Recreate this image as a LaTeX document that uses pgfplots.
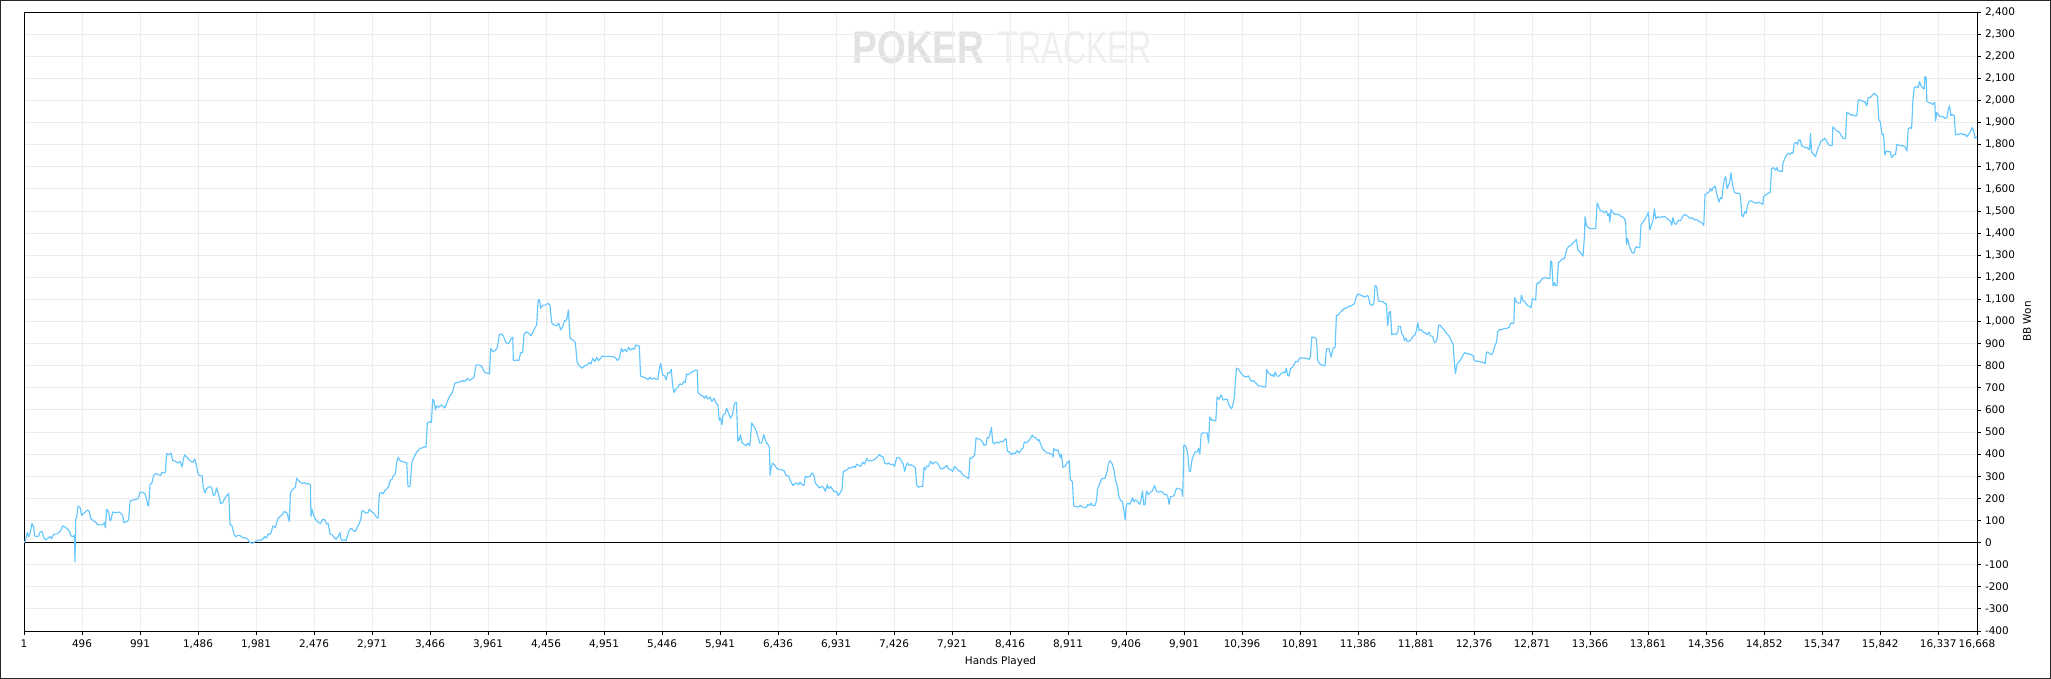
\documentclass[border=0pt]{standalone}
\usepackage{pgfplots}
\usepackage{pgfplotstable}
\pgfplotsset{compat=1.18}
\usepackage{fontspec}
\setmainfont{DejaVu Sans}
\newfontfamily\wmfont{Liberation Sans}
\definecolor{lineblue}{RGB}{100,198,255}
\definecolor{gridgray}{RGB}{236,236,236}
\definecolor{wmdark}{RGB}{226,226,226}
\definecolor{wmlight}{RGB}{239,239,239}

\pgfplotstableread{
x y
1 0
12 8
29 45
41 27
52 42
69 86
83 72
92 30
109 27
126 30
138 48
155 50
166 27
183 12
203 18
223 27
237 18
254 38
280 38
297 45
311 52
331 75
351 70
368 63
388 52
402 30
422 27
431 33
436 -87
442 105
450 112
462 165
479 160
493 123
510 132
524 138
539 147
559 142
570 108
587 102
610 93
630 82
644 80
672 80
687 90
695 67
707 150
724 138
735 98
746 108
758 138
786 135
815 138
843 123
854 90
871 93
894 102
906 188
928 192
957 195
977 201
991 228
1008 228
1031 222
1042 206
1059 168
1065 165
1076 262
1093 270
1105 300
1122 312
1144 308
1167 303
1179 318
1196 315
1207 318
1219 402
1236 397
1256 405
1270 372
1293 367
1313 360
1333 367
1350 342
1361 378
1373 397
1390 387
1407 375
1426 367
1441 363
1458 378
1469 357
1486 312
1497 303
1520 303
1532 247
1546 225
1560 243
1577 252
1597 252
1605 243
1617 213
1631 217
1645 247
1662 217
1679 177
1696 180
1713 198
1731 213
1748 222
1759 82
1776 75
1796 33
1810 27
1827 33
1850 30
1867 22
1890 22
1910 15
1930 0
1953 -3
1970 3
1987 8
2004 12
2021 10
2038 15
2055 27
2070 20
2084 39
2106 39
2126 75
2146 69
2169 110
2186 118
2203 125
2220 140
2243 136
2254 118
2265 95
2274 223
2294 241
2317 250
2328 291
2345 280
2362 271
2379 268
2396 271
2413 265
2430 268
2445 261
2450 118
2459 151
2476 118
2496 100
2516 90
2533 87
2550 106
2567 103
2584 84
2596 87
2613 39
2630 35
2647 24
2664 15
2681 27
2698 45
2704 20
2715 9
2732 12
2749 9
2761 30
2778 57
2795 65
2812 54
2829 50
2846 69
2863 87
2874 103
2886 145
2903 140
2920 133
2937 136
2948 151
2966 140
2988 133
3005 118
3022 110
3034 223
3051 226
3068 220
3079 235
3096 241
3113 253
3125 280
3142 287
3153 302
3170 311
3182 362
3193 386
3210 371
3233 366
3248 362
3267 362
3278 253
3295 253
3312 366
3335 392
3349 407
3364 416
3381 427
3398 427
3420 434
3432 431
3443 540
3460 547
3478 543
3489 648
3500 642
3512 600
3523 618
3540 612
3563 623
3580 615
3592 608
3608 630
3625 653
3643 668
3660 683
3677 721
3700 724
3722 727
3745 733
3762 728
3785 743
3802 733
3819 739
3842 748
3859 804
3876 804
3904 799
3921 781
3933 769
3956 766
3973 763
3984 879
4001 864
4024 869
4041 884
4058 940
4075 944
4092 935
4109 909
4126 899
4143 905
4160 925
4172 929
4177 826
4189 823
4206 826
4223 823
4240 859
4257 859
4268 939
4285 954
4308 947
4328 935
4342 950
4359 969
4376 984
4388 1094
4399 1100
4410 1059
4428 1074
4450 1074
4473 1082
4490 1074
4504 995
4524 984
4547 980
4564 992
4581 962
4598 977
4615 1004
4632 1007
4647 1052
4661 924
4684 917
4706 905
4721 819
4740 799
4763 789
4786 799
4809 804
4826 814
4840 808
4854 834
4871 819
4888 837
4905 823
4922 834
4939 844
4962 841
4985 844
5008 841
5031 841
5053 834
5065 823
5082 834
5099 879
5110 864
5127 874
5144 864
5161 883
5178 871
5195 879
5207 874
5224 894
5252 889
5263 754
5286 748
5309 744
5326 736
5343 748
5360 739
5377 744
5394 739
5411 739
5422 784
5434 811
5451 759
5468 754
5480 736
5496 769
5508 766
5525 784
5536 713
5548 679
5565 694
5582 703
5599 718
5616 713
5633 728
5644 724
5656 763
5673 759
5690 769
5713 774
5735 781
5747 778
5753 679
5770 668
5792 664
5809 653
5821 664
5838 649
5855 658
5872 638
5889 653
5906 631
5923 623
5934 553
5946 563
5957 533
5968 578
5985 583
5997 608
6013 586
6030 563
6047 578
6064 631
6081 634
6093 458
6104 465
6115 488
6127 453
6144 445
6161 438
6178 450
6195 438
6212 541
6229 526
6246 510
6263 483
6280 450
6297 450
6314 488
6331 458
6348 445
6362 431
6368 304
6379 345
6391 360
6408 349
6425 337
6442 330
6464 330
6487 325
6504 304
6527 300
6544 277
6561 259
6578 265
6595 269
6612 262
6624 274
6641 262
6658 259
6669 300
6686 295
6709 300
6726 315
6743 304
6754 269
6771 259
6788 247
6806 254
6823 250
6840 232
6857 262
6868 244
6885 254
6902 239
6919 229
6936 232
6948 213
6965 224
6982 239
6993 322
7010 325
7027 330
7044 340
7061 337
7078 345
7095 340
7107 355
7124 349
7141 345
7158 364
7175 355
7192 380
7209 370
7232 370
7255 375
7277 383
7300 398
7317 390
7334 386
7346 360
7363 355
7380 360
7397 352
7414 355
7431 345
7448 383
7465 386
7482 375
7493 364
7505 355
7516 322
7528 345
7539 360
7557 349
7574 352
7591 345
7608 340
7619 259
7636 250
7653 254
7670 254
7682 340
7693 330
7704 345
7721 345
7738 367
7755 355
7772 364
7789 364
7806 352
7823 334
7840 334
7858 340
7875 349
7892 334
7909 330
7926 322
7943 345
7960 334
7977 325
7994 322
8012 307
8029 300
8046 295
8063 289
8074 383
8086 380
8103 390
8114 394
8126 473
8143 470
8160 466
8177 458
8194 440
8211 443
8222 476
8234 473
8245 491
8257 521
8268 455
8285 446
8302 455
8319 450
8336 458
8353 455
8370 466
8382 470
8393 413
8410 410
8427 398
8441 405
8458 401
8476 416
8493 405
8510 420
8527 428
8538 455
8555 451
8572 458
8589 471
8606 486
8618 477
8635 474
8652 462
8663 466
8680 440
8698 420
8715 413
8732 405
8749 405
8766 401
8777 398
8783 386
8789 425
8806 416
8823 420
8834 401
8846 383
8854 401
8868 340
8885 345
8902 360
8920 370
8931 284
8948 276
8959 167
8976 162
8999 162
9016 167
9033 162
9050 158
9067 158
9079 173
9096 167
9107 178
9124 167
9141 167
9153 188
9164 246
9176 258
9193 284
9210 291
9227 291
9244 322
9255 355
9267 370
9284 360
9301 334
9312 294
9324 269
9335 246
9347 203
9364 188
9375 185
9387 147
9398 102
9409 173
9426 178
9438 173
9449 185
9461 203
9472 185
9489 193
9506 185
9523 173
9534 193
9546 234
9557 170
9568 173
9580 234
9597 216
9614 228
9631 234
9648 258
9665 234
9682 228
9700 231
9717 228
9733 216
9751 219
9762 208
9773 173
9785 208
9802 208
9819 216
9836 246
9853 243
9870 243
9882 234
9890 208
9899 440
9910 440
9922 428
9933 398
9945 322
9956 322
9967 370
9979 390
9996 410
10013 410
10024 425
10036 401
10047 492
10064 496
10087 496
10098 496
10110 451
10121 568
10138 553
10155 553
10172 550
10183 659
10200 648
10217 668
10235 644
10252 648
10269 648
10280 628
10297 610
10308 607
10320 628
10331 659
10337 713
10348 789
10365 785
10382 770
10400 759
10416 750
10434 750
10451 754
10462 739
10479 729
10496 732
10518 719
10535 708
10558 708
10581 704
10598 704
10606 783
10620 768
10632 764
10643 756
10657 759
10666 749
10677 771
10694 753
10711 753
10728 764
10745 771
10762 768
10774 789
10786 756
10797 753
10808 786
10826 794
10843 809
10854 820
10871 817
10888 835
10905 835
10928 835
10951 832
10968 829
10979 839
10991 929
11008 929
11030 922
11042 824
11059 809
11082 802
11104 799
11116 877
11138 877
11156 839
11173 880
11190 884
11201 1027
11218 1030
11235 1042
11252 1050
11269 1060
11286 1060
11304 1069
11321 1069
11338 1075
11355 1080
11366 1105
11383 1125
11406 1120
11429 1114
11446 1110
11463 1117
11474 1114
11486 1080
11503 1072
11520 1080
11531 1162
11543 1159
11560 1095
11577 1090
11599 1090
11617 1080
11628 1080
11639 982
11651 1042
11662 1045
11674 940
11691 944
11708 940
11725 952
11731 979
11748 979
11759 944
11771 937
11782 914
11793 925
11805 910
11822 910
11839 919
11856 934
11873 940
11884 959
11896 994
11907 959
11924 964
11941 952
11958 949
11975 940
11992 952
12004 934
12021 934
12038 904
12049 907
12061 922
12072 982
12083 985
12100 974
12117 964
12129 955
12146 944
12163 934
12180 914
12197 899
12208 813
12217 764
12231 809
12248 817
12265 829
12282 850
12299 859
12316 854
12333 854
12350 850
12367 847
12379 824
12396 820
12413 820
12436 817
12459 814
12470 809
12482 862
12499 859
12516 850
12533 854
12550 884
12567 907
12578 955
12595 964
12612 962
12629 968
12652 968
12675 973
12686 992
12703 992
12715 992
12723 1108
12737 1089
12754 1083
12771 1083
12780 1119
12794 1093
12811 1089
12828 1074
12840 1070
12851 1067
12862 1063
12874 1104
12891 1098
12902 1098
12908 1164
12919 1176
12931 1173
12942 1183
12959 1194
12976 1198
12993 1198
13010 1194
13022 1194
13030 1274
13039 1269
13050 1161
13062 1176
13073 1161
13084 1164
13096 1266
13113 1274
13130 1284
13147 1284
13158 1308
13170 1330
13187 1342
13204 1345
13221 1357
13238 1364
13249 1372
13261 1324
13272 1319
13289 1308
13306 1296
13318 1387
13323 1474
13335 1435
13352 1424
13369 1420
13392 1420
13414 1420
13426 1537
13437 1522
13454 1500
13471 1500
13488 1492
13505 1500
13517 1480
13528 1489
13534 1450
13545 1507
13557 1495
13574 1485
13591 1485
13608 1485
13625 1477
13642 1474
13659 1465
13670 1447
13676 1349
13687 1375
13698 1349
13710 1327
13721 1314
13739 1308
13750 1330
13761 1339
13778 1334
13790 1334
13801 1439
13818 1450
13835 1462
13852 1480
13864 1495
13875 1414
13887 1432
13904 1459
13915 1510
13926 1465
13943 1474
13961 1470
13983 1474
14006 1474
14023 1465
14040 1459
14052 1455
14063 1435
14074 1470
14086 1444
14097 1439
14109 1447
14120 1459
14137 1455
14154 1474
14171 1485
14188 1480
14205 1474
14222 1465
14239 1470
14256 1459
14273 1462
14290 1455
14307 1450
14324 1444
14336 1435
14347 1575
14364 1580
14381 1586
14393 1601
14404 1590
14416 1605
14433 1613
14444 1583
14455 1560
14467 1540
14478 1560
14490 1555
14501 1605
14512 1643
14524 1655
14535 1601
14547 1616
14558 1631
14569 1673
14581 1620
14598 1583
14615 1580
14638 1580
14649 1570
14661 1480
14672 1474
14687 1497
14698 1489
14710 1527
14727 1545
14744 1545
14761 1539
14778 1535
14801 1539
14824 1535
14841 1530
14846 1565
14863 1572
14886 1580
14903 1584
14915 1690
14932 1696
14949 1685
14960 1696
14971 1681
14989 1681
15006 1678
15011 1715
15028 1738
15045 1756
15062 1761
15074 1756
15085 1765
15097 1761
15108 1806
15125 1810
15137 1801
15148 1821
15159 1821
15171 1795
15188 1791
15205 1786
15222 1786
15239 1776
15247 1851
15256 1768
15267 1761
15279 1753
15290 1746
15301 1768
15313 1786
15324 1798
15336 1817
15353 1821
15370 1829
15387 1813
15404 1798
15421 1795
15432 1798
15438 1881
15455 1871
15472 1862
15489 1859
15506 1844
15523 1829
15546 1826
15557 1946
15574 1942
15591 1934
15608 1934
15626 1931
15643 1931
15654 2002
15671 2002
15688 1997
15711 1994
15728 1976
15739 2013
15756 2013
15773 2022
15790 2032
15808 2025
15819 2017
15830 1911
15842 1904
15859 1844
15870 1847
15882 1753
15893 1771
15910 1768
15927 1768
15939 1741
15956 1753
15973 1756
15984 1801
16001 1798
16018 1795
16035 1795
16053 1791
16070 1771
16081 1871
16098 1877
16110 1874
16121 2002
16132 2058
16149 2062
16166 2058
16178 2085
16189 2067
16206 2055
16217 2052
16223 2108
16234 2103
16240 1994
16257 1991
16274 1987
16291 1982
16308 1991
16314 1907
16325 1946
16343 1931
16360 1927
16377 1927
16394 1919
16411 1922
16422 1957
16434 1976
16445 1931
16456 1937
16473 1931
16485 1844
16502 1847
16519 1847
16536 1851
16553 1844
16570 1847
16581 1836
16598 1847
16615 1862
16627 1877
16638 1866
16649 1829
16668 1835
}\bbwon

\begin{document}
\begin{tikzpicture}
\path[use as bounding box] (0,0) rectangle (2051bp,679bp);
% watermark
\node[inner sep=0pt, text=wmdark] at (918.5bp,631.5bp)
  {\scalebox{0.81}[1]{\wmfont\bfseries\fontsize{46}{46}\selectfont POKER}};
\node[inner sep=0pt, text=wmlight] at (1075.5bp,631.5bp)
  {\scalebox{0.70}[1]{\wmfont\fontsize{46}{46}\selectfont TRACKER}};
\begin{axis}[
  at={(24bp,48bp)}, anchor=south west,
  width=1953bp, height=619bp, scale only axis,
  xmin=1, xmax=16668, ymin=-400, ymax=2400,
  xtick={1,496,991,1486,1981,2476,2971,3466,3961,4456,4951,5446,5941,6436,6931,7426,7921,8416,8911,9406,9901,10396,10891,11386,11881,12376,12871,13366,13861,14356,14852,15347,15842,16337,16668},
  ytick={-400,-300,...,2400},
  scaled x ticks=false, scaled y ticks=false,
  xtick pos=bottom, ytick pos=right, yticklabel pos=right,
  tick align=outside, major tick length=3.5bp,
  tick style={black, line width=0.8bp},
  axis line style={black, line width=0.9bp},
  grid=major, major grid style={gridgray, line width=0.9bp},
  /pgf/number format/.cd, 1000 sep={,}, assume math mode=true, /pgfplots/.cd,
  ticklabel style={font=\fontsize{10.5}{12}\selectfont, text=black},
  xticklabel style={yshift=-2bp},
  yticklabel style={xshift=1bp},
  xlabel={Hands Played}, ylabel={BB Won},
  label style={font=\fontsize{10.5}{12}\selectfont},
  xlabel style={at={(axis description cs:0.5,-0.0501)}, anchor=center},
  ylabel style={at={(axis description cs:1.0256,0.5)}, anchor=center},
]
\addplot[black, line width=0.9bp, mark=none] coordinates {(1,0) (16668,0)};
\addplot[lineblue, line width=1.15bp, mark=none, line join=round] table[x=x, y=y] {\bbwon};
\end{axis}
\draw[black!85, line width=1bp] (0.5bp,0.5bp) rectangle (2050.5bp,678.5bp);
\end{tikzpicture}
\end{document}
